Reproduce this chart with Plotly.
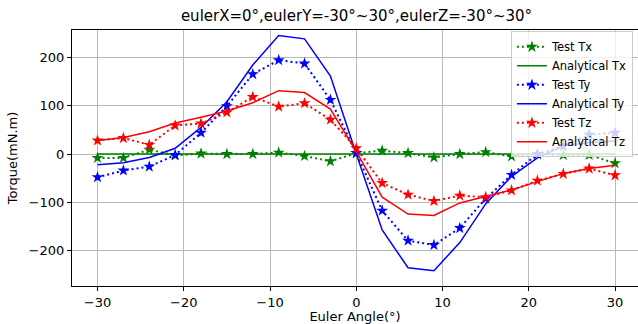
import plotly.graph_objects as go

angles = [-30, -27, -24, -21, -18, -15, -12, -9, -6, -3, 0, 3, 6, 9, 12, 15, 18, 21, 24, 27, 30]

test_tx = [-8, -8, 9, -3, 1, 0, 0, 3, -4, -15, 2, 7, 2, -7, 0, 4, -5, 0, -2, -2, -19]
analytical_tx = [0, 0, 0, 0, 0, 0, 0, 0, 0, 0, 0, 0, 0, 0, 0, 0, 0, 0, 0, 0, 0]

test_ty = [-48, -34, -26, -2, 44, 99, 165, 194, 187, 112, 2, -117, -179, -188, -153, -92, -43, 0, 16, 40, 44]
analytical_ty = [-22, -18, -7, 12, 55, 108, 184, 245, 238, 161, 0, -157, -235, -241, -183, -103, -46, -8, 17, 24, 27]

test_tz = [28, 33, 19, 59, 63, 86, 118, 98, 105, 71, 12, -60, -84, -97, -86, -89, -75, -55, -41, -30, -44]
analytical_tz = [28, 34, 46, 64, 76, 89, 106, 131, 127, 93, 5, -89, -124, -127, -101, -88, -74, -57, -40, -30, -23]

title_text = "eulerX=0°,eulerY=-30°~30°,eulerZ=-30°~30°"
x_label = "Euler Angle(°)"
y_label = "Torque(mN.m)"

GREEN = "#008000"
BLUE = "#0000ff"
RED = "#ff0000"
FONT = "DejaVu Sans"

fig = go.Figure()

def add_pair(test, analytical, color, name):
    fig.add_trace(go.Scatter(
        x=angles, y=test, mode="lines+markers", name="Test " + name,
        line=dict(color=color, width=2, dash="2px,3px"),
        marker=dict(symbol="star", size=9, color=color, line=dict(width=0)),
    ))
    fig.add_trace(go.Scatter(
        x=angles, y=analytical, mode="lines", name="Analytical " + name,
        line=dict(color=color, width=1.5),
    ))

add_pair(test_tx, analytical_tx, GREEN, "Tx")
add_pair(test_ty, analytical_ty, BLUE, "Ty")
add_pair(test_tz, analytical_tz, RED, "Tz")

fig.update_layout(
    width=638, height=324,
    margin=dict(l=72, r=0, t=30, b=38),
    paper_bgcolor="white", plot_bgcolor="white",
    font=dict(family=FONT, size=12, color="black"),
    title=dict(text=title_text, x=(72 + 641) / 2 / 638, xanchor="center",
               y=1 - 16 / 324, yanchor="middle", font=dict(size=15, family=FONT)),
    showlegend=True,
    legend=dict(
        x=0.991, xanchor="right", y=0.995, yanchor="top",
        bgcolor="rgba(255,255,255,0.8)", bordercolor="#cccccc", borderwidth=1,
        font=dict(size=11.5, family=FONT),
        tracegroupgap=0,
    ),
)

fig.update_xaxes(
    range=[-32.96, 32.66], tickvals=[-30, -20, -10, 0, 10, 20, 30],
    showgrid=True, gridcolor="#b8b8b8", gridwidth=1,
    showline=True, linecolor="black", linewidth=1.2, mirror=True,
    ticks="outside", ticklen=4, tickcolor="black",
    zeroline=False,
    title=dict(text=x_label, font=dict(size=13), standoff=3),
    tickfont=dict(size=13),
)
fig.update_yaxes(
    range=[-272.7, 256.3], tickvals=[-200, -100, 0, 100, 200],
    showgrid=True, gridcolor="#b8b8b8", gridwidth=1,
    showline=True, linecolor="black", linewidth=1.2, mirror=False,
    ticks="outside", ticklen=4, tickcolor="black",
    zeroline=False,
    title=dict(text=y_label, font=dict(size=13), standoff=8),
    tickfont=dict(size=13),
)

fig.write_html("out.html")
